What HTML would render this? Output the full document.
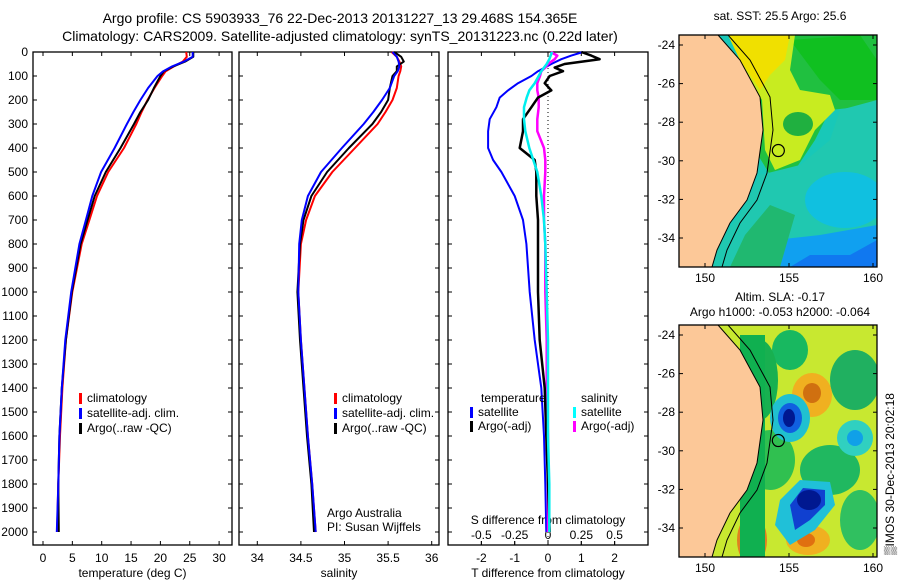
<!DOCTYPE html>
<html><head><meta charset="utf-8"><style>
body{margin:0;background:#fff;}
svg{display:block;font-family:"Liberation Sans",sans-serif;}
text{fill:#000;}
</style></head><body>
<svg id="chart" width="900" height="580" viewBox="0 0 900 580" xmlns="http://www.w3.org/2000/svg">
<text x="340" y="23" font-size="14" text-anchor="middle">Argo profile: CS 5903933_76 22-Dec-2013 20131227_13 29.468S 154.365E</text>
<text x="340" y="41" font-size="14" text-anchor="middle">Climatology: CARS2009. Satellite-adjusted climatology: synTS_20131223.nc (0.22d later)</text>
<g id="p1"></g>
<g id="p2"></g>
<g id="p3"></g>
<g id="maps">
 <text x="780" y="20" font-size="12" text-anchor="middle">sat. SST: 25.5 Argo: 25.6</text>
 <text x="780" y="301" font-size="12" text-anchor="middle">Altim. SLA: -0.17</text>
 <text x="780" y="316" font-size="12" text-anchor="middle">Argo h1000: -0.053 h2000: -0.064</text>
 <text transform="translate(894,555) rotate(-90)" font-size="12">▒IMOS 30-Dec-2013 20:02:18</text>
</g>
</svg>
<script>
// ---------- data ----------
const depths = [0,20,40,60,80,100,150,200,250,300,400,500,600,700,800,1000,1200,1400,1600,1800,2000];
const tempClim = [24.4,24.5,23.8,22.3,20.9,20.3,19.0,17.8,16.8,15.9,13.8,11.1,9.2,7.9,6.6,5.0,3.9,3.3,2.9,2.6,2.4];
const tempSat  = [25.5,25.5,24.0,22.0,20.5,19.5,17.9,16.6,15.4,14.3,12.2,9.9,8.4,7.3,6.2,4.8,3.8,3.2,2.8,2.6,2.35];
const tempArgo = [25.6,25.6,24.2,22.2,20.6,20.0,18.9,17.9,16.6,15.5,13.2,10.7,8.8,7.6,6.4,4.9,3.9,3.2,2.8,2.6,2.7];
const salClim = [35.54,35.6,35.63,35.65,35.64,35.62,35.6,35.55,35.47,35.38,35.12,34.86,34.66,34.56,34.5,34.47,34.5,34.54,34.58,34.63,34.67];
const salSat  = [35.55,35.6,35.62,35.63,35.61,35.57,35.52,35.43,35.33,35.22,34.97,34.73,34.58,34.51,34.48,34.47,34.5,34.54,34.58,34.63,34.67];
const salArgo = [35.57,35.65,35.68,35.6,35.6,35.55,35.52,35.5,35.42,35.32,35.05,34.8,34.62,34.53,34.49,34.46,34.49,34.53,34.57,34.62,34.65];
const diffDepths = [0,15,30,50,65,80,100,130,160,190,230,280,330,400,450,500,600,700,800,1000,1200,1400,1600,1800,2000];
const dTsat  = [1.05,0.7,0.4,0.1,-0.1,-0.3,-0.5,-0.9,-1.2,-1.45,-1.55,-1.75,-1.8,-1.8,-1.65,-1.4,-1.0,-0.75,-0.65,-0.55,-0.4,-0.2,-0.12,-0.08,-0.05];
const dTargo = [1.0,1.3,1.55,0.5,0.2,0.45,0.05,-0.1,0.1,-0.3,-0.5,-0.75,-0.75,-0.85,-0.4,-0.35,-0.35,-0.3,-0.3,-0.3,-0.25,-0.1,-0.05,0,0.05];
const dSsat  = [0.03,0.02,0.01,-0.01,-0.03,-0.05,-0.07,-0.1,-0.14,-0.16,-0.18,-0.18,-0.17,-0.14,-0.11,-0.08,-0.05,-0.03,-0.02,-0.01,0,0,0,0.01,0.01];
const dSargo = [0.02,0.07,0.05,0.0,-0.02,-0.05,-0.06,-0.08,-0.08,-0.07,-0.07,-0.08,-0.08,-0.03,-0.02,-0.02,-0.03,-0.03,-0.02,-0.02,-0.01,-0.01,0,0,0];
const depthTicks = [0,100,200,300,400,500,600,700,800,900,1000,1100,1200,1300,1400,1500,1600,1700,1800,1900,2000];
const tempTicks = [0,5,10,15,20,25,30];
const salTicks = [34,34.5,35,35.5,36];
const tdTicks = [-2,-1,0,1,2];
const sdTicks = [-0.5,-0.25,0,0.25,0.5];
const sdTickLabels = ['-0.5','-0.25','0','0.25','0.5'];

const NS='http://www.w3.org/2000/svg';
function mk(parent,tag,attrs,txt){const e=document.createElementNS(NS,tag);for(const k in attrs)e.setAttribute(k,attrs[k]);if(txt!==undefined)e.textContent=txt;parent.appendChild(e);return e;}
const TOP=52, BOT=545;
const yD = d => 52 + d*0.24;

function panel(g,x0,x1,xs,ticks,labels,xlabel){
  const r=mk(g,'rect',{x:x0,y:TOP,width:x1-x0,height:BOT-TOP,fill:'none',stroke:'#000','stroke-width':1.3});
  
  
  ticks.forEach((t,i)=>{
    const x=xs(t);
    mk(g,'line',{x1:x,x2:x,y1:BOT,y2:BOT-4,stroke:'#000'});
    mk(g,'line',{x1:x,x2:x,y1:TOP,y2:TOP+4,stroke:'#000'});
    const tl=mk(g,'text',{x:x,y:BOT+17,'font-size':12,'text-anchor':'middle'},labels?labels[i]:String(t));
    
    
  });
  depthTicks.forEach(d=>{
    mk(g,'line',{x1:x0,x2:x0+4,y1:yD(d),y2:yD(d),stroke:'#000'});
    mk(g,'line',{x1:x1,x2:x1-4,y1:yD(d),y2:yD(d),stroke:'#000'});
  });
  const xl=mk(g,'text',{x:(x0+x1)/2,y:BOT+32,'font-size':12,'text-anchor':'middle'},xlabel);
  
  
}
function line(g,xs,vals,ds,color,w,name){
  const p=vals.map((v,i)=>xs(v).toFixed(1)+','+yD(ds[i]).toFixed(1)).join(' ');
  const e=mk(g,'polyline',{points:p,fill:'none',stroke:color,'stroke-width':w,'stroke-linejoin':'round'});
  
  
}
function legend(g,x,y,color,label){
  mk(g,'rect',{x:x,y:y-9,width:3,height:11,fill:color});
  const t=mk(g,'text',{x:x+8,y:y,'font-size':12},label);
  
  
}

// Panel 1
const g1=document.getElementById('p1');
const xT = t => 43 + t*5.87;
panel(g1,33,232,xT,tempTicks,null,'temperature (deg C)');
depthTicks.forEach(d=>{const t=mk(g1,'text',{x:28,y:yD(d)+4,'font-size':12,'text-anchor':'end'},String(d));
 
 });
line(g1,xT,tempClim,depths,'#f00',2,'temp-climatology-line');
line(g1,xT,tempArgo,depths,'#000',2,'temp-argo-line');
line(g1,xT,tempSat,depths,'#00f',2,'temp-satellite-line');
legend(g1,79,402,'#f00','climatology');
legend(g1,79,417,'#00f','satellite-adj. clim.');
legend(g1,79,432,'#000','Argo(..raw -QC)');

// Panel 2
const g2=document.getElementById('p2');
const xS = s => 257.3 + (s-34)*87.2;
panel(g2,239,439,xS,salTicks,null,'salinity');
line(g2,xS,salClim,depths,'#f00',2,'sal-climatology-line');
line(g2,xS,salArgo,depths,'#000',2,'sal-argo-line');
line(g2,xS,salSat,depths,'#00f',2,'sal-satellite-line');
legend(g2,334,402,'#f00','climatology');
legend(g2,334,417,'#00f','satellite-adj. clim.');
legend(g2,334,432,'#000','Argo(..raw -QC)');
let t=mk(g2,'text',{x:327,y:517,'font-size':12},'Argo Australia');
t=mk(g2,'text',{x:327,y:531,'font-size':12},'PI: Susan Wijffels');

// Panel 3
const g3=document.getElementById('p3');
const xTd = v => 548 + v*33.3;
const xSd = v => 548 + v*133.3;
panel(g3,448,648,xTd,tdTicks,null,'T difference from climatology');
sdTicks.forEach((v,i)=>{const x=xSd(v);mk(g3,'line',{x1:x,x2:x,y1:BOT,y2:BOT-4,stroke:'#000'});
 const tl=mk(g3,'text',{x:x,y:539,'font-size':12,'text-anchor':'middle'},sdTickLabels[i]);
 
 });
t=mk(g3,'text',{x:548,y:524,'font-size':12,'text-anchor':'middle'},'S difference from climatology');
mk(g3,'line',{x1:548,x2:548,y1:TOP,y2:BOT,stroke:'#000','stroke-dasharray':'1,3'});
line(g3,xTd,dTsat,diffDepths,'#00f',2,'tdiff-satellite-line');
line(g3,xSd,dSargo,diffDepths,'#f0f',2.5,'sdiff-argo-line');
line(g3,xTd,dTargo,diffDepths,'#000',2.5,'tdiff-argo-line');
line(g3,xSd,dSsat,diffDepths,'#0ee',2.5,'sdiff-satellite-line');
t=mk(g3,'text',{x:481,y:402,'font-size':12},'temperature');
t=mk(g3,'text',{x:581,y:402,'font-size':12},'salinity');
legend(g3,470,416,'#00f','satellite');
legend(g3,573,416,'#0ff','satellite');
legend(g3,470,430,'#000','Argo(-adj)');
legend(g3,573,430,'#f0f','Argo(-adj)');

// ---------- maps ----------
const gm=document.getElementById('maps');
function mapFrame(y0,y1,latTop,pxLat,name){
  const g=mk(gm,'g',{});
  
  
  const cid='clip'+y0;
  const cp=mk(g,'clipPath',{id:cid});mk(cp,'rect',{x:679,y:y0,width:198,height:y1-y0});
  const inner=mk(g,'g',{'clip-path':'url(#'+cid+')'});
  return {g,inner,y0,y1,ly:lat=>latTop+(-24-lat)*pxLat};
}
const lonX = lon => 705 + (lon-150)*16.8;
function coast(m,yOff){
  const pts=[[718,35],[740,60],[760,97],[763,130],[757,173],[747,200],[730,223],[717,250],[712,267]];
  return pts.map(p=>[p[0],p[1]+yOff]);
}
function drawMap(m,yOff,kind){
  const I=m.inner;
  if(kind==='sst'){
    mk(I,'rect',{x:679,y:m.y0,width:198,height:m.y1-m.y0,fill:'#18c8b8'});
    mk(I,'polygon',{points:'750,35 877,35 877,105 830,110 815,140 795,170 770,175 755,150',fill:'#20c040'});
    mk(I,'polygon',{points:'790,40 860,35 877,60 877,100 840,100 820,80',fill:'#10c020'});
    mk(I,'polygon',{points:'728,35 795,35 790,70 800,90 830,95 835,110 815,130 800,160 775,170 765,150 762,100 740,60',fill:'#c8ec20'});
    mk(I,'polygon',{points:'728,35 790,35 785,60 770,75 760,90 740,60',fill:'#f0e000'});
    mk(I,'ellipse',{cx:798,cy:124,rx:15,ry:12,fill:'#20b040'});
    mk(I,'polygon',{points:'760,175 800,165 830,140 840,110 877,100 877,267 700,267 740,215',fill:'#20c8b0'});
    mk(I,'ellipse',{cx:845,cy:200,rx:40,ry:28,fill:'#10c0e0'});
    mk(I,'polygon',{points:'765,267 775,240 820,235 877,225 877,267',fill:'#10a0f0'});
    mk(I,'polygon',{points:'790,267 810,255 850,255 877,240 877,267',fill:'#1078f0'});
    mk(I,'polygon',{points:'730,267 745,235 770,205 795,215 780,267',fill:'#20b870'});
  } else {
    mk(I,'rect',{x:679,y:m.y0,width:198,height:m.y1-m.y0,fill:'#c8e830'});
    [[790,350,18,20,'#18b860'],[855,380,25,30,'#20b060'],[770,460,25,30,'#30c050'],[830,470,30,25,'#20b860'],[860,520,20,30,'#30c060'],[760,380,18,40,'#18b050']].forEach(b=>mk(I,'ellipse',{cx:b[0],cy:b[1],rx:b[2],ry:b[3],fill:b[4]}));
    [[812,395,20,22,'#f0b020'],[812,393,9,10,'#d07010'],[808,540,22,15,'#f0b020'],[806,540,9,7,'#e07010'],[752,540,15,25,'#e08020'],[752,548,8,10,'#b04010']].forEach(b=>mk(I,'ellipse',{cx:b[0],cy:b[1],rx:b[2],ry:b[3],fill:b[4]}));
    mk(I,'ellipse',{cx:790,cy:418,rx:20,ry:24,fill:'#20c0d0'});
    mk(I,'ellipse',{cx:790,cy:418,rx:12,ry:15,fill:'#1060e0'});
    mk(I,'ellipse',{cx:789,cy:418,rx:6,ry:9,fill:'#001890'});
    mk(I,'ellipse',{cx:855,cy:438,rx:18,ry:18,fill:'#30d0c0'});
    mk(I,'ellipse',{cx:855,cy:438,rx:8,ry:8,fill:'#10a0e8'});
    mk(I,'polygon',{points:'780,500 800,480 830,482 835,505 815,530 790,545 775,525',fill:'#20c0d8'});
    mk(I,'polygon',{points:'790,505 803,488 825,490 825,505 810,520 795,530',fill:'#1040d0'});
    mk(I,'ellipse',{cx:809,cy:500,rx:12,ry:10,fill:'#001890'});
    mk(I,'rect',{x:740,y:335,width:25,height:225,fill:'#10b050'});
  }
  const c=coast(m,yOff);
  const land=[[679,m.y0]].concat(c.map(p=>[p[0],p[1]])).concat([[679,m.y1]]);
  const lp=mk(I,'polygon',{points:land.map(p=>p.join(',')).join(' '),fill:'#fcc898',stroke:'#000','stroke-width':1});
  
  
  mk(I,'polyline',{points:c.map(p=>(p[0]+10)+','+p[1]).join(' '),fill:'none',stroke:'#000','stroke-width':1});
  const mark=mk(I,'circle',{cx:lonX(154.365),cy:m.ly(-29.468),r:6,fill:'none',stroke:'#000','stroke-width':1.2});
  
  
  mk(m.g,'rect',{x:679,y:m.y0,width:198,height:m.y1-m.y0,fill:'none',stroke:'#000','stroke-width':1.3});
  [150,155,160].forEach(lon=>{const x=lonX(lon);mk(m.g,'line',{x1:x,x2:x,y1:m.y1,y2:m.y1-4,stroke:'#000'});mk(m.g,'line',{x1:x,x2:x,y1:m.y0,y2:m.y0+4,stroke:'#000'});
    const tl=mk(m.g,'text',{x:x,y:m.y1+15,'font-size':12,'text-anchor':'middle'},String(lon));
    
    });
  [-24,-26,-28,-30,-32,-34].forEach(lat=>{const y=m.ly(lat);mk(m.g,'line',{x1:679,x2:683,y1:y,y2:y,stroke:'#000'});mk(m.g,'line',{x1:877,x2:873,y1:y,y2:y,stroke:'#000'});
    const tl=mk(m.g,'text',{x:675,y:y+4,'font-size':12,'text-anchor':'end'},String(lat));
    
    });
}
const m1=mapFrame(35,267,45,19.3,'sst-map');drawMap(m1,0,'sst');
const m2=mapFrame(325,557,335,19.3,'sla-map');drawMap(m2,290,'sla');
</script>
</body></html>
